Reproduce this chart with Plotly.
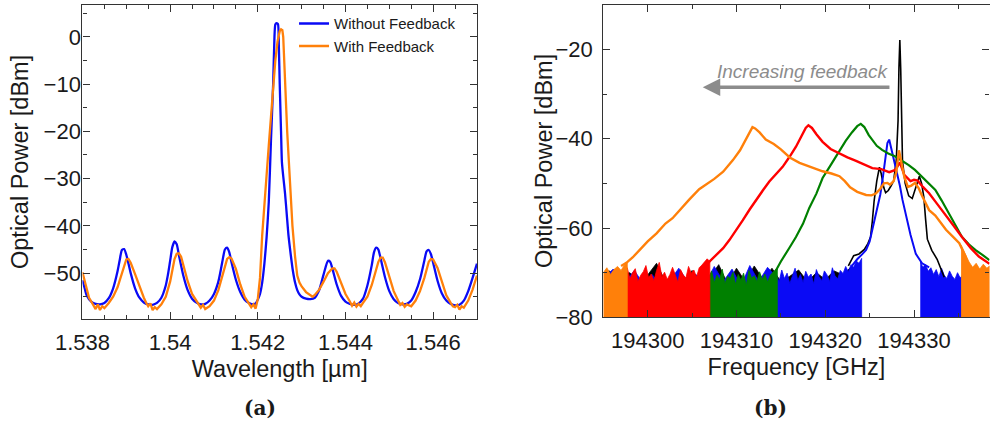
import plotly.graph_objects as go

# ---------------- Panel (a): wavelength spectra ----------------
wl_without = [1.5380, 1.53805, 1.5381, 1.5382, 1.5383, 1.5384, 1.5385, 1.5386, 1.5387, 1.5388, 1.53885,
              1.5389, 1.53895, 1.5390, 1.53905, 1.5391, 1.5392, 1.5393, 1.5394, 1.5395, 1.5396, 1.5397,
              1.5398, 1.5399, 1.53995, 1.5400, 1.54005, 1.5401, 1.54015, 1.5402, 1.54025, 1.5403, 1.5404,
              1.5405, 1.5406, 1.5407, 1.5408, 1.5409, 1.5410, 1.5411, 1.54115, 1.5412, 1.54125, 1.5413,
              1.54135, 1.5414, 1.5415, 1.5416, 1.5417, 1.5418, 1.5419, 1.54195, 1.5420, 1.54205, 1.5421,
              1.54215, 1.5422, 1.54225, 1.5423, 1.54235, 1.54238, 1.5424, 1.54243, 1.54246, 1.54248,
              1.5425, 1.54253, 1.54255, 1.54258, 1.54262, 1.54266, 1.5427, 1.54275, 1.5428, 1.54285,
              1.5429, 1.54295, 1.5430, 1.5431, 1.5432, 1.5433, 1.5434, 1.5435, 1.5436, 1.54365, 1.5437,
              1.5438, 1.5439, 1.5440, 1.5441, 1.5442, 1.5443, 1.5444, 1.5445, 1.5446, 1.54465, 1.5447,
              1.54475, 1.5448, 1.5449, 1.5450, 1.5451, 1.5452, 1.5453, 1.5454, 1.5455, 1.5456, 1.5457,
              1.5458, 1.54585, 1.5459, 1.54595, 1.5460, 1.5461, 1.5462, 1.5463, 1.5464, 1.5465, 1.5466,
              1.5467, 1.5468, 1.5469, 1.5470]
p_without = [-51.5, -53.2, -54.8, -56.0, -56.5, -56.6, -56.3, -55.3, -53.2, -49.6, -47.2,
             -45.1, -44.9, -46.1, -48.0, -50.0, -53.2, -55.2, -56.2, -56.6, -56.7, -56.3,
             -55.2, -52.6, -50.3, -47.4, -44.5, -43.3, -43.9, -46.2, -48.4, -50.5, -53.6,
             -55.4, -56.2, -56.6, -56.5, -55.8, -54.4, -51.8, -49.6, -47.1, -45.0, -44.6,
             -45.6, -47.7, -51.4, -54.0, -55.6, -56.3, -56.6, -56.4, -55.6, -54.4, -52.0,
             -48.0, -42.5, -35.0, -22.0, -10.0, 0.0, 2.6, 2.9, 2.7, -2.0,
             -10.0, -20.0, -26.5, -29.5, -33.0, -37.5, -42.0, -46.0, -49.5, -52.0,
             -53.6, -54.5, -55.0, -55.4, -55.5, -55.2, -53.6, -50.3, -47.4, -47.6, -49.0,
             -52.4, -54.8, -56.0, -56.5, -56.7, -56.4, -55.4, -52.6, -48.3, -45.6, -44.6,
             -45.0, -46.8, -50.8, -53.8, -55.5, -56.3, -56.6, -56.5, -55.8, -54.0, -51.3,
             -47.3, -45.4, -45.1, -46.0, -47.8, -51.6, -54.3, -55.8, -56.5, -56.8, -56.7,
             -55.8, -53.8, -51.0, -48.0]

wl_with = [1.5380, 1.53805, 1.5381, 1.53815, 1.5382, 1.53825, 1.5383, 1.53835, 1.5384, 1.53845, 1.5385,
           1.5386, 1.5387, 1.5388, 1.5389, 1.53895, 1.5390, 1.53905, 1.5391, 1.5392, 1.5393, 1.5394,
           1.53945, 1.5395, 1.53955, 1.5396, 1.53965, 1.5397, 1.5398, 1.5399, 1.5400, 1.54005, 1.5401,
           1.54015, 1.5402, 1.54025, 1.5403, 1.5404, 1.5405, 1.5406, 1.54065, 1.5407, 1.54075, 1.5408,
           1.5409, 1.5410, 1.5411, 1.5412, 1.54125, 1.5413, 1.54135, 1.5414, 1.5415, 1.5416, 1.5417,
           1.5418, 1.54185, 1.5419, 1.54195, 1.5420, 1.54205, 1.5421, 1.54215, 1.5422, 1.54225, 1.5423,
           1.54235, 1.5424, 1.54245, 1.5425, 1.54253, 1.54256, 1.54258, 1.54262, 1.54267, 1.54273,
           1.54279, 1.54285, 1.5429, 1.54295, 1.5430, 1.5431, 1.5432, 1.54325, 1.5433, 1.5434, 1.5435,
           1.5436, 1.5437, 1.54375, 1.5438, 1.5439, 1.5440, 1.5441, 1.54415, 1.5442, 1.54425, 1.5443,
           1.54435, 1.5444, 1.5445, 1.5446, 1.5447, 1.54475, 1.5448, 1.54485, 1.5449, 1.5450, 1.5451,
           1.5452, 1.54525, 1.5453, 1.54535, 1.5454, 1.5455, 1.5456, 1.5457, 1.5458, 1.54585, 1.5459,
           1.54595, 1.5460, 1.5461, 1.5462, 1.5463, 1.5464, 1.54645, 1.5465, 1.54655, 1.5466, 1.54665,
           1.5467, 1.5468, 1.5469, 1.5470]
p_with = [-49.8, -51.8, -53.8, -55.2, -56.0, -56.8, -57.6, -56.6, -57.8, -57.0, -57.4,
          -56.3, -55.0, -53.0, -50.0, -48.3, -47.1, -47.0, -47.8, -50.2, -52.9, -55.2,
          -56.2, -57.0, -56.4, -57.8, -57.2, -57.6, -56.6, -55.0, -51.8, -49.2, -47.0,
          -45.9, -45.8, -46.5, -48.2, -51.7, -54.4, -56.0, -56.8, -57.3, -56.7, -57.6,
          -57.0, -55.8, -53.6, -50.5, -48.5, -47.0, -46.6, -46.9, -49.1, -52.4, -55.0,
          -56.4, -57.2, -56.6, -57.5, -55.5, -51.0, -42.0, -35.0, -29.0, -23.0, -17.0,
          -10.5, -5.0, -1.0, 1.2, 1.6, 1.4, 0.0, -10.0, -20.0, -30.0,
          -40.0, -46.5, -50.5, -52.0, -52.8, -54.0, -54.8, -55.0, -54.6, -53.5, -51.8,
          -50.0, -49.0, -49.0, -49.7, -51.9, -54.4, -56.0, -56.9, -56.2, -57.1, -56.5,
          -57.0, -56.3, -55.0, -52.5, -49.5, -47.6, -46.7, -46.7, -47.7, -50.7, -53.8,
          -55.8, -56.7, -56.3, -57.1, -56.6, -57.0, -55.8, -53.8, -51.0, -49.2, -47.6,
          -47.0, -47.1, -48.9, -51.9, -54.7, -56.3, -57.0, -57.2, -56.7, -57.7, -57.0,
          -57.3, -55.8, -53.5, -50.5]

wl_tickvals = [1.538, 1.540, 1.542, 1.544, 1.546]
wl_ticktext = ["1.538", "1.54", "1.542", "1.544", "1.546"]
pa_tickvals = [0, -10, -20, -30, -40, -50]
pa_ticktext = ["0", "−10", "−20", "−30", "−40", "−50"]

# ---------------- Panel (b): frequency spectra ----------------
# noise-floor bands (upper edge of the dense noise, down to -80 dBm)
orange_nl_f = [194295.0, 194295.4, 194295.8, 194296.2, 194296.6, 194297.0, 194297.4, 194297.7]
orange_nl_p = [-70.0, -68.9, -70.4, -69.3, -68.6, -69.5, -68.2, -67.6]
orange_nr_f = [194335.3, 194335.8, 194336.2, 194336.6, 194337.0, 194337.4, 194337.8, 194338.2, 194338.5]
orange_nr_p = [-63.8, -66.0, -67.6, -68.8, -67.9, -69.2, -68.1, -69.0, -68.5]
red_n_f = [194297.4, 194297.7, 194298.0, 194298.3, 194298.6, 194298.9, 194299.2, 194299.5, 194299.8,
           194300.1, 194300.4, 194300.7, 194301.0, 194301.3, 194301.6, 194301.9, 194302.2, 194302.5,
           194302.8, 194303.1, 194303.4, 194303.7, 194304.0, 194304.3, 194304.6, 194304.9, 194305.2,
           194305.5, 194305.8, 194306.1, 194306.4, 194306.7, 194307.0]
red_n_p = [-70.2, -68.9, -71.4, -70.0, -69.1, -72.0, -70.6, -69.8, -68.4,
           -71.1, -70.3, -71.8, -69.5, -67.7, -70.9, -69.9, -71.5, -70.4,
           -68.8, -70.7, -72.1, -69.3, -70.5, -71.2, -68.6, -70.1, -69.4,
           -71.0, -68.9, -68.3, -67.6, -66.9, -67.5]
green_n_f = [194306.9, 194307.2, 194307.5, 194307.8, 194308.1, 194308.4, 194308.7, 194309.0, 194309.3,
             194309.6, 194309.9, 194310.2, 194310.5, 194310.8, 194311.1, 194311.4, 194311.7, 194312.0,
             194312.3, 194312.6, 194312.9, 194313.2, 194313.5, 194313.8, 194314.1, 194314.4, 194314.6]
green_n_p = [-71.0, -69.6, -72.2, -70.5, -71.6, -69.2, -72.4, -70.8, -71.3,
             -69.9, -72.6, -70.4, -71.7, -70.1, -72.8, -69.5, -71.2, -70.7,
             -72.0, -69.8, -71.5, -70.3, -72.1, -70.6, -69.9, -69.3, -69.0]
blue_nl_f = [194314.5, 194314.8, 194315.1, 194315.4, 194315.7, 194316.0, 194316.3, 194316.6, 194316.9,
             194317.2, 194317.5, 194317.8, 194318.1, 194318.4, 194318.7, 194319.0, 194319.3, 194319.6,
             194319.9, 194320.2, 194320.5, 194320.8, 194321.1, 194321.4, 194321.7, 194322.0, 194322.3,
             194322.6, 194322.9, 194323.2, 194323.5, 194323.8, 194324.1]
blue_nl_p = [-70.6, -72.0, -69.4, -71.3, -70.1, -72.4, -70.8, -69.0, -71.7,
             -70.4, -72.2, -69.7, -71.0, -70.3, -72.5, -69.3, -70.9, -71.8,
             -69.6, -70.5, -72.0, -68.9, -70.7, -71.4, -69.5, -70.2, -68.6,
             -69.8, -68.2, -68.8, -67.4, -67.9, -66.8]
blue_nr_f = [194330.7, 194331.0, 194331.3, 194331.6, 194331.9, 194332.2, 194332.5, 194332.8, 194333.1,
             194333.4, 194333.7, 194334.0, 194334.3, 194334.6, 194334.9, 194335.2, 194335.5, 194335.8,
             194336.1, 194336.4]
blue_nr_p = [-67.6, -68.8, -68.2, -69.7, -68.9, -70.4, -69.3, -70.9, -69.0,
             -70.6, -71.3, -69.6, -70.8, -71.5, -70.0, -71.2, -70.4, -71.6,
             -70.8, -71.4]
blue_nu_f = [194295.2, 194296.1, 194297.5, 194298.5, 194299.5, 194300.5, 194301.5, 194302.5, 194303.5,
             194304.5, 194305.5, 194306.5, 194307.5, 194308.5, 194309.5, 194310.5, 194311.5, 194312.5,
             194313.5, 194314.5]
blue_nu_p = [-71.0, -69.2, -72.0, -69.5, -72.5, -70.4, -73.0, -71.8, -69.0,
             -72.0, -70.5, -72.4, -68.6, -72.0, -69.2, -73.0, -68.4, -72.0,
             -68.8, -71.0]
black_n_f = [194295.6, 194296.6, 194298.0, 194299.0, 194300.0, 194301.0, 194302.0, 194303.0, 194304.0,
             194305.0, 194306.0, 194307.0, 194308.0, 194309.0, 194310.0, 194311.0, 194312.0, 194313.0,
             194314.0, 194315.0, 194316.0, 194317.0, 194318.0, 194319.0, 194320.0, 194321.0, 194322.0,
             194323.0]
black_n_p = [-69.5, -71.0, -70.0, -72.0, -70.5, -67.9, -72.0, -70.2, -72.5,
             -69.5, -72.0, -71.0, -68.2, -72.5, -69.0, -72.0, -68.5, -71.5,
             -69.0, -72.0, -70.8, -69.4, -72.0, -70.0, -71.5, -69.6, -70.5,
             -68.5]

# signal traces
orange_f = [194297.0, 194297.6, 194298.3, 194299.1, 194300.0, 194301.0, 194302.0, 194302.8, 194303.8,
            194304.7, 194305.8, 194306.6, 194307.5, 194308.5, 194309.6, 194310.4, 194311.1, 194311.5,
            194311.8, 194312.1, 194312.6, 194313.3, 194314.2, 194315.0, 194316.0, 194317.1, 194318.5,
            194319.7, 194320.7, 194321.6, 194322.2, 194322.8, 194323.6, 194324.6, 194325.2, 194325.7,
            194326.2, 194326.6, 194327.0, 194327.3, 194327.7, 194328.0, 194328.3, 194328.6, 194328.9,
            194329.3, 194329.7, 194330.1, 194330.5, 194330.9, 194331.7, 194332.4, 194333.6, 194334.4,
            194335.1, 194335.8, 194336.4]
orange_p = [-68.5, -67.8, -66.6, -64.9, -63.0, -61.2, -59.0, -57.8, -55.5,
            -53.6, -51.3, -50.2, -49.0, -47.4, -44.8, -42.6, -40.0, -38.2,
            -37.4, -37.7, -38.6, -40.2, -41.2, -42.4, -44.2, -45.4, -46.4,
            -47.3, -47.8, -48.4, -49.5, -50.9, -51.9, -52.6, -52.7, -52.3,
            -51.2, -50.0, -49.9, -50.3, -49.5, -47.5, -42.6, -45.5, -48.5,
            -50.8, -50.5, -49.9, -51.0, -52.8, -56.0, -57.2, -60.4, -62.0,
            -63.4, -66.4, -70.5]
red_f = [194306.2, 194306.8, 194307.7, 194308.5, 194309.2, 194310.0, 194310.7, 194311.5, 194312.2,
         194313.0, 194313.7, 194314.5, 194315.2, 194316.0, 194316.7, 194317.3, 194317.8, 194318.1,
         194318.5, 194319.0, 194319.7, 194320.6, 194321.6, 194322.5, 194323.4, 194324.4, 194325.3,
         194326.3, 194327.2, 194327.9, 194328.4, 194328.9, 194329.6, 194330.0, 194330.4, 194331.0,
         194331.7, 194332.6, 194333.6, 194334.5, 194335.4, 194336.4, 194337.3, 194338.5]
red_p = [-69.0, -67.8, -66.2, -64.5, -62.7, -60.5, -58.3, -55.8, -53.7,
         -51.5, -49.6, -47.8, -46.3, -44.0, -41.8, -39.5, -37.6, -37.0,
         -37.6, -39.0, -40.7, -42.3, -43.4, -44.2, -44.9, -45.8, -46.6,
         -46.8, -47.5, -47.0, -45.3, -48.1, -49.5, -49.2, -49.4, -50.8,
         -52.2, -54.6, -57.1, -59.6, -62.0, -64.5, -66.4, -68.0]
green_f = [194314.3, 194315.0, 194316.0, 194316.7, 194317.5, 194318.2, 194319.0, 194319.7, 194320.4,
           194321.0, 194321.6, 194322.3, 194323.0, 194323.6, 194324.0, 194324.4, 194324.9, 194325.3,
           194325.8, 194326.4, 194327.1, 194327.9, 194328.6, 194329.4, 194330.1, 194330.9, 194331.6,
           194332.4, 194333.1, 194333.9, 194334.6, 194335.4, 194336.2, 194336.9, 194337.7, 194338.5]
green_p = [-70.0, -67.5, -64.3, -62.0, -59.0, -55.5, -52.3, -48.8, -46.6,
           -44.6, -42.6, -40.5, -38.6, -37.2, -36.7, -37.4, -39.2, -40.3,
           -41.6, -42.5, -43.3, -44.0, -44.8, -45.9, -47.0, -48.5, -49.9,
           -51.5, -53.8, -56.7, -59.3, -62.0, -63.7, -64.9, -66.0, -67.2]
blue_f = [194323.0, 194323.6, 194324.2, 194324.6, 194325.0, 194325.3, 194325.6, 194325.9, 194326.2,
          194326.5, 194326.8, 194327.0, 194327.2, 194327.4, 194327.7, 194328.0, 194328.4, 194328.7,
          194329.1, 194329.6, 194330.2, 194330.9, 194331.7]
blue_p = [-68.5, -67.0, -65.8, -64.9, -63.0, -60.5, -58.0, -55.2, -52.5,
          -48.5, -44.0, -41.0, -40.2, -41.8, -44.5, -47.0, -50.5, -53.7,
          -57.5, -61.5, -65.8, -67.9, -68.8]
black_f = [194322.6, 194323.2, 194323.8, 194324.4, 194324.8, 194325.1, 194325.3, 194325.5, 194325.8,
           194326.0, 194326.1, 194326.3, 194326.6, 194326.8, 194327.1, 194327.4, 194327.7, 194328.0,
           194328.2, 194328.3, 194328.4, 194328.5, 194328.6, 194328.7, 194329.0, 194329.4, 194329.8,
           194330.2, 194330.6, 194330.85, 194331.1, 194331.3, 194331.5, 194332.0, 194332.6, 194333.1,
           194333.4]
black_p = [-68.5, -66.2, -65.8, -64.8, -63.5, -62.0, -58.5, -54.0, -49.5,
           -46.8, -46.4, -47.8, -51.0, -52.1, -51.6, -50.6, -49.5, -44.8,
           -36.0, -24.0, -17.9, -24.5, -40.0, -45.0, -50.0, -52.8, -53.4,
           -51.0, -48.4, -50.0, -53.0, -58.0, -62.5, -65.0, -67.0, -69.5,
           -71.0]

fr_tickvals = [194300, 194310, 194320, 194330]
fr_ticktext = ["194300", "194310", "194320", "194330"]
pb_tickvals = [-20, -40, -60, -80]
pb_ticktext = ["−20", "−40", "−60", "−80"]

BLUE = "rgb(10,10,245)"
ORANGE = "rgb(255,128,10)"
RED = "rgb(255,0,0)"
GREEN = "rgb(0,128,0)"
BLACK = "rgb(0,0,0)"
FLOOR = -80.0

fig = go.Figure()

fig.add_trace(go.Scatter(x=wl_without, y=p_without, mode="lines", name="Without Feedback",
                         line=dict(color=BLUE, width=2.3, shape="spline", smoothing=0.6),
                         xaxis="x", yaxis="y"))
fig.add_trace(go.Scatter(x=wl_with, y=p_with, mode="lines", name="With Feedback",
                         line=dict(color=ORANGE, width=2.3), xaxis="x", yaxis="y"))


def band(f, p, color):
    xs = list(f) + [f[-1], f[0]]
    ys = list(p) + [FLOOR, FLOOR]
    fig.add_trace(go.Scatter(x=xs, y=ys, mode="lines", fill="toself", fillcolor=color,
                             line=dict(color=color, width=0.8), showlegend=False,
                             hoverinfo="skip", xaxis="x2", yaxis="y2"))


band(black_n_f, black_n_p, BLACK)
band(blue_nu_f, blue_nu_p, BLUE)
band(blue_nl_f, blue_nl_p, BLUE)
band(blue_nr_f, blue_nr_p, BLUE)
band(green_n_f, green_n_p, GREEN)
band(red_n_f, red_n_p, RED)
band(orange_nl_f, orange_nl_p, ORANGE)
band(orange_nr_f, orange_nr_p, ORANGE)

for f, p, c, w in [(black_f, black_p, BLACK, 1.6), (blue_f, blue_p, BLUE, 2.0),
                   (green_f, green_p, GREEN, 2.2), (red_f, red_p, RED, 2.4),
                   (orange_f, orange_p, ORANGE, 2.4)]:
    fig.add_trace(go.Scatter(x=f, y=p, mode="lines", showlegend=False,
                             line=dict(color=c, width=w), xaxis="x2", yaxis="y2"))

FONT = "Liberation Sans, Arial, sans-serif"
TICKF = dict(family=FONT, size=22, color="#1a1a1a")
TITLEF = dict(family=FONT, size=23.5, color="#1a1a1a")
axcommon = dict(showline=True, linecolor="#333333", linewidth=1.3, mirror="ticks",
                ticks="inside", ticklen=7, tickwidth=1.1, tickcolor="#333333",
                showgrid=False, zeroline=False, tickfont=TICKF, automargin=False)

YTITLE = "Optical Power [dBm]"

fig.update_layout(
    width=990, height=425,
    margin=dict(l=0, r=0, t=0, b=0),
    paper_bgcolor="white", plot_bgcolor="white",
    showlegend=True,
    legend=dict(x=0.297, y=0.983, xanchor="left", yanchor="top", bgcolor="rgba(0,0,0,0)",
                font=dict(family=FONT, size=15, color="#1a1a1a"), tracegroupgap=0,
                itemwidth=30),
    xaxis=dict(domain=[0.0833, 0.4818], range=[1.538, 1.547], tickvals=wl_tickvals,
               ticktext=wl_ticktext, ticklabelstandoff=3,
               minor=dict(dtick=0.0005, tick0=1.538, ticks="inside", ticklen=4, tickcolor="#333333"),
               title=dict(text="Wavelength [µm]", font=TITLEF, standoff=6), anchor="y", **axcommon),
    yaxis=dict(domain=[0.2494, 0.989], range=[-59.7, 6.8], tickvals=pa_tickvals,
               ticktext=pa_ticktext, ticklabelstandoff=-4,
               minor=dict(dtick=5, tick0=0, ticks="inside", ticklen=4, tickcolor="#333333"),
               anchor="x", **axcommon),
    xaxis2=dict(domain=[0.6094, 0.9995], range=[194295, 194338.5], tickvals=fr_tickvals,
                ticktext=fr_ticktext, ticklabelstandoff=3,
                minor=dict(dtick=5, tick0=194300, ticks="inside", ticklen=4, tickcolor="#333333"),
                title=dict(text="Frequency [GHz]", font=TITLEF, standoff=6), anchor="y2", **axcommon),
    yaxis2=dict(domain=[0.2533, 0.989], range=[-80, -10], tickvals=pb_tickvals,
                ticktext=pb_ticktext, ticklabelstandoff=5,
                minor=dict(dtick=10, tick0=-80, ticks="inside", ticklen=4, tickcolor="#333333"),
                anchor="x2", **axcommon),
    annotations=[
        dict(x=20 / 990, y=(425 - 162) / 425, xref="paper", yref="paper", text=YTITLE, textangle=-90,
             xanchor="center", yanchor="middle", showarrow=False, font=TITLEF),
        dict(x=544 / 990, y=(425 - 161) / 425, xref="paper", yref="paper", text=YTITLE, textangle=-90,
             xanchor="center", yanchor="middle", showarrow=False, font=TITLEF),
        dict(x=194306.2, y=-28.5, ax=194327.4, ay=-28.5, xref="x2", yref="y2", axref="x2", ayref="y2",
             text="", showarrow=True, arrowhead=2, arrowsize=1.0, arrowwidth=3.5, arrowcolor="#8c8c8c"),
        dict(x=194327.4, y=-25.0, xref="x2", yref="y2", xanchor="right", yanchor="middle",
             text="<i>Increasing feedback</i>", showarrow=False,
             font=dict(family=FONT, size=19, color="#8c8c8c")),
        dict(x=260 / 990, y=(425 - 408) / 425, xref="paper", yref="paper", text="<b>(a)</b>",
             xanchor="center", yanchor="middle",
             showarrow=False, font=dict(family="DejaVu Serif, serif", size=20, color="#1a1a1a")),
        dict(x=770 / 990, y=(425 - 408) / 425, xref="paper", yref="paper", text="<b>(b)</b>",
             xanchor="center", yanchor="middle",
             showarrow=False, font=dict(family="DejaVu Serif, serif", size=20, color="#1a1a1a")),
    ],
)

fig.write_html("out.html")
